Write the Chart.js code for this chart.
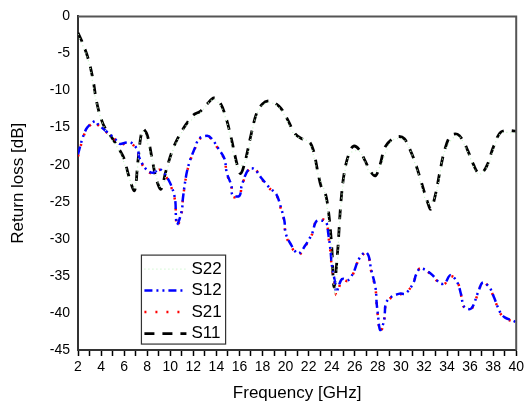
<!DOCTYPE html>
<html lang="en">
  <head>
    <meta charset="UTF-8" />
    <title>Return loss</title>
    <script src="https://cdn.jsdelivr.net/npm/chart.js@4.4.0/dist/chart.umd.min.js"></script>
    <style>
      html, body { margin: 0; padding: 0; background: #fff; }
      #wrap { width: 527px; height: 408px; }
    </style>
  </head>
  <body>
    <div id="wrap"><canvas id="chart" width="527" height="408"></canvas></div>
    <script>
      // S11 (black dashed)
      const s11Freq = [2.0,2.4,2.9,3.3,3.6,4.0,4.4,5.0,5.6,6.0,6.4,6.9,7.2,7.6,8.0,8.4,8.8,9.2,9.6,10.2,10.8,11.4,12.0,12.6,13.2,13.8,14.3,14.8,15.3,15.8,16.1,16.5,17.0,17.5,18.0,18.5,19.0,19.6,20.2,20.8,21.4,22.0,22.4,22.8,23.1,23.4,23.7,24.0,24.2,24.5,24.8,25.1,25.5,25.9,26.4,26.9,27.4,27.8,28.2,28.6,29.2,29.8,30.3,30.8,31.3,31.8,32.3,32.6,33.0,33.4,33.8,34.3,34.9,35.4,35.8,36.3,36.7,37.1,37.5,38.0,38.6,39.2,40.0];
      const s11Loss = [-2.2,-3.6,-5.8,-8.5,-11.4,-13.8,-15.2,-16.5,-18.0,-19.2,-21.5,-23.5,-19.5,-15.2,-16.0,-19.0,-22.0,-23.3,-21.0,-18.0,-16.0,-14.5,-13.3,-12.8,-11.8,-11.0,-11.6,-13.5,-16.5,-20.0,-21.2,-19.5,-16.0,-13.0,-11.8,-11.4,-11.6,-12.4,-14.0,-15.8,-16.5,-16.8,-18.0,-21.0,-23.0,-23.6,-26.0,-31.0,-36.5,-32.0,-25.0,-21.0,-18.5,-17.5,-18.0,-19.5,-21.0,-21.5,-20.0,-17.7,-16.6,-16.2,-16.5,-18.0,-20.0,-22.5,-25.0,-26.0,-24.0,-20.8,-18.0,-16.1,-15.9,-16.8,-18.1,-20.0,-21.1,-21.0,-20.0,-17.7,-15.7,-15.4,-15.5];

      // S22 (light green dotted, runs close to S11)
      const s22Freq = [2.0,2.9,3.6,4.4,5.6,6.4,6.9,7.6,8.4,9.2,10.2,11.4,12.6,13.8,14.8,15.8,16.5,17.5,18.5,19.6,20.8,22.0,22.8,23.4,24.0,24.3,24.8,25.5,26.4,27.4,28.2,29.2,30.3,31.3,32.3,33.0,33.8,34.9,35.8,36.7,37.5,38.6,40.0];
      const s22Loss = [-2.4,-6.0,-11.6,-15.4,-18.2,-21.6,-23.2,-15.4,-19.2,-23.0,-18.2,-14.7,-13.0,-11.2,-13.7,-20.2,-19.6,-13.2,-11.6,-12.6,-16.0,-17.0,-21.2,-23.8,-31.5,-37.5,-25.5,-18.7,-18.2,-21.2,-20.2,-16.8,-16.7,-20.2,-25.2,-24.2,-18.2,-16.1,-18.3,-21.3,-20.2,-15.9,-15.7];

      // S12 (blue dash-dot-dot)
      const s12Freq = [2.0,2.4,2.8,3.5,3.7,4.6,5.2,5.6,6.2,6.6,7.2,7.3,7.9,8.5,9.1,9.9,10.4,10.5,10.6,11.0,11.1,11.4,11.7,12.1,12.5,13.2,13.6,14.2,14.7,14.9,15.3,15.4,16.0,16.2,16.8,17.3,17.9,18.6,19.2,19.6,19.9,20.0,20.4,21.1,21.7,22.3,22.7,23.5,23.7,23.9,24.0,24.3,24.4,24.8,25.0,25.4,25.9,26.3,26.9,27.2,27.4,27.8,27.9,28.0,28.2,28.5,28.6,28.7,29.1,29.9,30.4,31.1,31.3,31.7,32.6,33.4,33.8,34.3,34.9,35.2,35.5,36.1,36.7,37.1,37.7,38.1,38.6,39.0,39.8,40.0];
      const s12Loss = [-18.6,-16.4,-15.0,-14.1,-14.5,-15.7,-16.5,-17.2,-17.0,-17.0,-18.1,-19.0,-20.6,-21.1,-20.6,-22.2,-24.5,-27.1,-28.1,-26.2,-24.5,-21.3,-19.5,-17.9,-16.5,-16.1,-16.5,-17.9,-19.2,-21.1,-22.8,-24.1,-24.2,-22.8,-20.6,-20.6,-21.8,-23.1,-24.0,-25.8,-27.6,-29.2,-30.6,-32.0,-30.9,-29.3,-27.6,-27.8,-29.3,-31.6,-33.4,-36.0,-37.2,-35.6,-35.4,-35.6,-34.5,-32.9,-31.8,-32.3,-34.0,-36.6,-38.7,-40.1,-42.3,-41.3,-40.1,-38.7,-37.9,-37.4,-37.4,-35.9,-34.9,-34.0,-34.7,-36.0,-36.0,-34.9,-35.9,-37.4,-39.2,-39.4,-37.2,-35.9,-36.6,-38.0,-39.9,-40.6,-41.1,-41.3];

      // S21 (red dotted, almost on top of S12)
      const s21Freq = [2.0,2.4,2.8,3.5,3.7,4.6,5.2,5.6,6.2,6.6,7.2,7.3,7.9,8.5,9.1,9.9,10.4,10.5,10.6,11.0,11.1,11.4,11.7,12.1,12.5,13.2,13.6,14.2,14.7,14.9,15.3,15.4,16.0,16.2,16.8,17.3,17.9,18.6,19.2,19.6,19.9,20.0,20.4,21.1,21.7,22.3,22.7,23.5,23.7,23.9,24.0,24.3,24.4,24.8,25.0,25.4,25.9,26.3,26.9,27.2,27.4,27.8,27.9,28.0,28.2,28.5,28.6,28.7,29.1,29.9,30.4,31.1,31.3,31.7,32.6,33.4,33.8,34.3,34.9,35.2,35.5,36.1,36.7,37.1,37.7,38.1,38.6,39.0,39.8,40.0];
      const s21Loss = [-18.9,-16.6,-15.1,-14.2,-14.6,-15.8,-16.6,-17.3,-17.1,-17.1,-18.2,-19.1,-20.7,-21.2,-20.7,-22.4,-24.7,-27.4,-28.4,-26.4,-24.6,-21.4,-19.6,-18.0,-16.6,-16.2,-16.6,-18.0,-19.3,-21.2,-22.9,-24.3,-24.3,-22.9,-20.7,-20.5,-21.9,-23.2,-24.1,-26.0,-27.8,-29.4,-30.8,-32.2,-31.0,-29.4,-27.5,-27.6,-29.5,-31.9,-33.7,-36.4,-37.6,-35.8,-35.5,-35.7,-34.6,-33.0,-31.9,-32.4,-34.2,-36.8,-38.9,-40.4,-42.6,-41.5,-40.2,-38.8,-38.0,-37.5,-37.3,-36.0,-34.8,-34.0,-34.8,-36.1,-36.1,-35.0,-35.8,-37.5,-39.3,-39.5,-37.3,-35.8,-36.7,-38.1,-40.0,-40.7,-41.2,-41.4];

      const seriesNames = ['S22', 'S12', 'S21', 'S11'];
      const xTicks = { min: 2, max: 40, step: 1 };
      const yTicks = { min: -45, max: 0, step: 5 };

      const FONT = 'Liberation Sans, Arial, sans-serif';

      function pts(xs, ys) {
        return xs.map((x, i) => ({ x: x, y: ys[i] }));
      }

      const styles = {
        S22: { color: '#c8f5c8', width: 1.2, dash: [1, 3] },
        S12: { color: '#0000ff', width: 2.5, dash: [8, 4, 2, 4, 2, 4] },
        S21: { color: '#ff0000', width: 2.5, dash: [2, 9] },
        S11: { color: '#000000', width: 2.8, dash: [10, 8] }
      };

      const seriesData = {
        S22: pts(s22Freq, s22Loss),
        S12: pts(s12Freq, s12Loss),
        S21: pts(s21Freq, s21Loss),
        S11: pts(s11Freq, s11Loss)
      };

      // frame on top/right + legend box inside the plot
      const framePlugin = {
        id: 'frame',
        afterDraw(chart) {
          const ctx = chart.ctx;
          const a = chart.chartArea;
          ctx.save();
          ctx.strokeStyle = '#555';
          ctx.lineWidth = 2;
          ctx.beginPath();
          ctx.moveTo(a.left, a.top);
          ctx.lineTo(a.right, a.top);
          ctx.lineTo(a.right, a.bottom);
          ctx.stroke();

          // legend
          const xs = chart.scales.x, ys = chart.scales.y;
          const bx = xs.getPixelForValue(7.5);
          const by = ys.getPixelForValue(-32.2);
          const bw = xs.getPixelForValue(14.8) - bx;
          const bh = ys.getPixelForValue(-44.2) - by;
          ctx.fillStyle = '#fff';
          ctx.fillRect(bx, by, bw, bh);
          ctx.strokeStyle = '#333';
          ctx.lineWidth = 1.2;
          ctx.strokeRect(bx, by, bw, bh);
          ctx.font = '17px ' + FONT;
          ctx.textBaseline = 'middle';
          ctx.fillStyle = '#000';
          seriesNames.forEach((name, i) => {
            const st = styles[name];
            const ry = by + 14 + i * 21.5;
            ctx.strokeStyle = st.color;
            ctx.lineWidth = st.width;
            ctx.setLineDash(st.dash);
            ctx.beginPath();
            ctx.moveTo(bx + 3, ry);
            ctx.lineTo(bx + 45, ry);
            ctx.stroke();
            ctx.setLineDash([]);
            ctx.fillText(name, bx + 50, ry);
          });
          ctx.restore();
        }
      };

      const datasets = seriesNames.map((name, i) => ({
        label: name,
        data: seriesData[name],
        borderColor: styles[name].color,
        borderWidth: styles[name].width,
        borderDash: styles[name].dash,
        pointRadius: 0,
        fill: false,
        tension: 0.35,
        order: i + 1
      }));

      new Chart(document.getElementById('chart'), {
        type: 'line',
        data: { datasets: datasets },
        options: {
          responsive: false,
          animation: false,
          layout: { padding: { top: 15, right: 8, left: 0, bottom: 0 } },
          plugins: { legend: { display: false }, tooltip: { enabled: false } },
          scales: {
            x: {
              type: 'linear',
              min: xTicks.min,
              max: xTicks.max,
              ticks: {
                stepSize: xTicks.step,
                autoSkip: false,
                maxRotation: 0,
                color: '#000',
                font: { family: FONT, size: 14 },
                padding: 3,
                callback: v => (v % 2 === 0 ? String(v) : '')
              },
              grid: { drawOnChartArea: false, drawTicks: true, tickLength: 6, tickColor: '#000', tickWidth: 1.5 },
              border: { color: '#333', width: 2 },
              title: { display: true, text: 'Frequency [GHz]', color: '#000', font: { family: FONT, size: 17 }, padding: { top: 7 } },
              afterFit(s) { s.height = 58; }
            },
            y: {
              min: yTicks.min,
              max: yTicks.max,
              ticks: {
                stepSize: yTicks.step,
                color: '#000',
                font: { family: FONT, size: 14 },
                padding: 8
              },
              grid: { drawOnChartArea: false, drawTicks: false },
              border: { color: '#333', width: 2 },
              title: { display: true, text: 'Return loss [dB]', color: '#000', font: { family: FONT, size: 17 }, padding: { top: 8, bottom: 0 } },
              afterFit(s) { s.width = 78; }
            }
          }
        },
        plugins: [framePlugin]
      });
    </script>
  </body>
</html>
